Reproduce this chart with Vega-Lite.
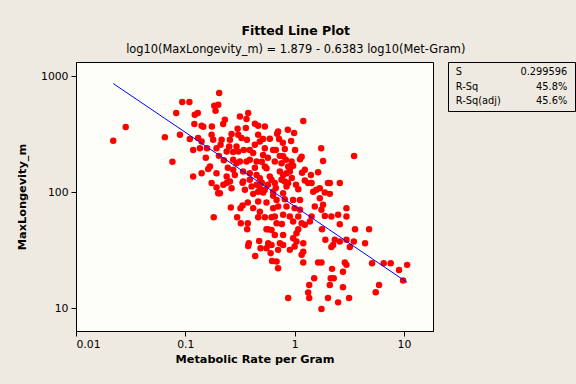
{
  "$schema": "https://vega.github.io/schema/vega-lite/v6.json",
  "background": "#EEEAE1",
  "padding": {"left": 16, "top": 25, "right": 3, "bottom": 20},
  "title": {
    "text": "Fitted Line Plot",
    "subtitle": "log10(MaxLongevity_m) =  1.879 - 0.6383 log10(Met-Gram)",
    "font": "DejaVu Sans", "fontSize": 12.5, "fontWeight": "bold", "color": "#000000",
    "subtitleFont": "DejaVu Sans", "subtitleFontSize": 11.4, "subtitleColor": "#000000",
    "subtitlePadding": 6.5, "offset": 6, "anchor": "middle"
  },
  "datasets": {
    "pts": [
      {"MetGram": 0.0219, "MaxLongevity": 278}, {"MetGram": 0.0285, "MaxLongevity": 365}, {"MetGram": 0.065, "MaxLongevity": 299},
      {"MetGram": 0.0762, "MaxLongevity": 183}, {"MetGram": 0.0826, "MaxLongevity": 483}, {"MetGram": 0.0893, "MaxLongevity": 313},
      {"MetGram": 0.0937, "MaxLongevity": 601}, {"MetGram": 0.109, "MaxLongevity": 601}, {"MetGram": 0.110, "MaxLongevity": 288},
      {"MetGram": 0.118, "MaxLongevity": 232}, {"MetGram": 0.118, "MaxLongevity": 137}, {"MetGram": 0.121, "MaxLongevity": 388},
      {"MetGram": 0.122, "MaxLongevity": 467}, {"MetGram": 0.130, "MaxLongevity": 483}, {"MetGram": 0.131, "MaxLongevity": 294},
      {"MetGram": 0.136, "MaxLongevity": 240}, {"MetGram": 0.141, "MaxLongevity": 274}, {"MetGram": 0.141, "MaxLongevity": 375},
      {"MetGram": 0.146, "MaxLongevity": 367}, {"MetGram": 0.141, "MaxLongevity": 146}, {"MetGram": 0.158, "MaxLongevity": 240},
      {"MetGram": 0.162, "MaxLongevity": 159}, {"MetGram": 0.168, "MaxLongevity": 167}, {"MetGram": 0.174, "MaxLongevity": 313},
      {"MetGram": 0.175, "MaxLongevity": 370}, {"MetGram": 0.180, "MaxLongevity": 284}, {"MetGram": 0.184, "MaxLongevity": 558},
      {"MetGram": 0.200, "MaxLongevity": 569}, {"MetGram": 0.189, "MaxLongevity": 506}, {"MetGram": 0.204, "MaxLongevity": 719},
      {"MetGram": 0.193, "MaxLongevity": 240}, {"MetGram": 0.193, "MaxLongevity": 146}, {"MetGram": 0.174, "MaxLongevity": 120},
      {"MetGram": 0.193, "MaxLongevity": 110}, {"MetGram": 0.200, "MaxLongevity": 98.2}, {"MetGram": 0.182, "MaxLongevity": 60.9},
      {"MetGram": 0.215, "MaxLongevity": 284}, {"MetGram": 0.210, "MaxLongevity": 257}, {"MetGram": 0.222, "MaxLongevity": 388},
      {"MetGram": 0.230, "MaxLongevity": 423}, {"MetGram": 0.225, "MaxLongevity": 189}, {"MetGram": 0.239, "MaxLongevity": 225},
      {"MetGram": 0.252, "MaxLongevity": 248}, {"MetGram": 0.239, "MaxLongevity": 137}, {"MetGram": 0.223, "MaxLongevity": 116},
      {"MetGram": 0.240, "MaxLongevity": 121}, {"MetGram": 0.265, "MaxLongevity": 108}, {"MetGram": 0.256, "MaxLongevity": 124},
      {"MetGram": 0.265, "MaxLongevity": 318}, {"MetGram": 0.256, "MaxLongevity": 284}, {"MetGram": 0.274, "MaxLongevity": 191},
      {"MetGram": 0.294, "MaxLongevity": 178}, {"MetGram": 0.316, "MaxLongevity": 184}, {"MetGram": 0.274, "MaxLongevity": 156},
      {"MetGram": 0.284, "MaxLongevity": 141}, {"MetGram": 0.294, "MaxLongevity": 248}, {"MetGram": 0.305, "MaxLongevity": 225},
      {"MetGram": 0.301, "MaxLongevity": 353}, {"MetGram": 0.305, "MaxLongevity": 313}, {"MetGram": 0.327, "MaxLongevity": 294},
      {"MetGram": 0.316, "MaxLongevity": 451}, {"MetGram": 0.376, "MaxLongevity": 483}, {"MetGram": 0.363, "MaxLongevity": 428},
      {"MetGram": 0.358, "MaxLongevity": 358}, {"MetGram": 0.338, "MaxLongevity": 151}, {"MetGram": 0.389, "MaxLongevity": 146},
      {"MetGram": 0.338, "MaxLongevity": 124}, {"MetGram": 0.389, "MaxLongevity": 128}, {"MetGram": 0.363, "MaxLongevity": 184},
      {"MetGram": 0.389, "MaxLongevity": 191}, {"MetGram": 0.449, "MaxLongevity": 184}, {"MetGram": 0.389, "MaxLongevity": 232},
      {"MetGram": 0.418, "MaxLongevity": 218}, {"MetGram": 0.433, "MaxLongevity": 390}, {"MetGram": 0.464, "MaxLongevity": 375},
      {"MetGram": 0.534, "MaxLongevity": 370}, {"MetGram": 0.464, "MaxLongevity": 313}, {"MetGram": 0.481, "MaxLongevity": 274},
      {"MetGram": 0.515, "MaxLongevity": 288}, {"MetGram": 0.534, "MaxLongevity": 240}, {"MetGram": 0.515, "MaxLongevity": 210},
      {"MetGram": 0.636, "MaxLongevity": 232}, {"MetGram": 0.534, "MaxLongevity": 167}, {"MetGram": 0.553, "MaxLongevity": 161},
      {"MetGram": 0.449, "MaxLongevity": 141}, {"MetGram": 0.481, "MaxLongevity": 132}, {"MetGram": 0.593, "MaxLongevity": 137},
      {"MetGram": 0.615, "MaxLongevity": 128}, {"MetGram": 0.404, "MaxLongevity": 112}, {"MetGram": 0.449, "MaxLongevity": 116},
      {"MetGram": 0.481, "MaxLongevity": 108}, {"MetGram": 0.534, "MaxLongevity": 105}, {"MetGram": 0.207, "MaxLongevity": 98.2},
      {"MetGram": 0.261, "MaxLongevity": 73.8}, {"MetGram": 0.320, "MaxLongevity": 72.9}, {"MetGram": 0.334, "MaxLongevity": 77.0},
      {"MetGram": 0.298, "MaxLongevity": 60.9}, {"MetGram": 0.322, "MaxLongevity": 54.1}, {"MetGram": 0.368, "MaxLongevity": 48.0},
      {"MetGram": 0.373, "MaxLongevity": 81.5}, {"MetGram": 0.418, "MaxLongevity": 96.8}, {"MetGram": 0.464, "MaxLongevity": 101},
      {"MetGram": 0.515, "MaxLongevity": 99.4}, {"MetGram": 0.464, "MaxLongevity": 83.2}, {"MetGram": 0.553, "MaxLongevity": 81.5},
      {"MetGram": 0.418, "MaxLongevity": 72.9}, {"MetGram": 0.636, "MaxLongevity": 72.9}, {"MetGram": 0.636, "MaxLongevity": 93.1},
      {"MetGram": 0.464, "MaxLongevity": 60.9}, {"MetGram": 0.534, "MaxLongevity": 60.9}, {"MetGram": 0.615, "MaxLongevity": 60.9},
      {"MetGram": 0.553, "MaxLongevity": 48.0}, {"MetGram": 0.569, "MaxLongevity": 48.0}, {"MetGram": 0.381, "MaxLongevity": 36.3},
      {"MetGram": 0.376, "MaxLongevity": 34.4}, {"MetGram": 0.474, "MaxLongevity": 38.0}, {"MetGram": 0.573, "MaxLongevity": 36.3},
      {"MetGram": 0.615, "MaxLongevity": 35.1}, {"MetGram": 0.488, "MaxLongevity": 32.9}, {"MetGram": 0.553, "MaxLongevity": 32.9},
      {"MetGram": 0.436, "MaxLongevity": 28.2}, {"MetGram": 0.603, "MaxLongevity": 29.8}, {"MetGram": 0.622, "MaxLongevity": 25.5},
      {"MetGram": 0.334, "MaxLongevity": 121},
      {"MetGram": 1.20, "MaxLongevity": 412}, {"MetGram": 0.706, "MaxLongevity": 335}, {"MetGram": 0.692, "MaxLongevity": 320},
      {"MetGram": 0.989, "MaxLongevity": 324}, {"MetGram": 0.721, "MaxLongevity": 288}, {"MetGram": 0.929, "MaxLongevity": 277},
      {"MetGram": 0.673, "MaxLongevity": 231}, {"MetGram": 0.813, "MaxLongevity": 236}, {"MetGram": 1.01, "MaxLongevity": 231},
      {"MetGram": 1.75, "MaxLongevity": 240}, {"MetGram": 3.50, "MaxLongevity": 205}, {"MetGram": 1.82, "MaxLongevity": 186},
      {"MetGram": 0.733, "MaxLongevity": 206}, {"MetGram": 0.785, "MaxLongevity": 204}, {"MetGram": 0.659, "MaxLongevity": 184},
      {"MetGram": 0.759, "MaxLongevity": 178}, {"MetGram": 0.937, "MaxLongevity": 184}, {"MetGram": 1.12, "MaxLongevity": 193},
      {"MetGram": 1.16, "MaxLongevity": 202}, {"MetGram": 0.873, "MaxLongevity": 167}, {"MetGram": 0.904, "MaxLongevity": 158},
      {"MetGram": 0.969, "MaxLongevity": 169}, {"MetGram": 0.733, "MaxLongevity": 151}, {"MetGram": 0.785, "MaxLongevity": 141},
      {"MetGram": 0.843, "MaxLongevity": 146}, {"MetGram": 0.904, "MaxLongevity": 151}, {"MetGram": 1.17, "MaxLongevity": 147},
      {"MetGram": 1.64, "MaxLongevity": 149}, {"MetGram": 0.759, "MaxLongevity": 128}, {"MetGram": 0.813, "MaxLongevity": 124},
      {"MetGram": 0.873, "MaxLongevity": 120}, {"MetGram": 0.659, "MaxLongevity": 120}, {"MetGram": 1.24, "MaxLongevity": 126},
      {"MetGram": 1.33, "MaxLongevity": 120}, {"MetGram": 1.43, "MaxLongevity": 120}, {"MetGram": 2.02, "MaxLongevity": 120},
      {"MetGram": 2.10, "MaxLongevity": 120}, {"MetGram": 2.59, "MaxLongevity": 120}, {"MetGram": 0.843, "MaxLongevity": 112},
      {"MetGram": 1.08, "MaxLongevity": 106}, {"MetGram": 1.58, "MaxLongevity": 105}, {"MetGram": 1.48, "MaxLongevity": 101},
      {"MetGram": 1.70, "MaxLongevity": 108}, {"MetGram": 1.89, "MaxLongevity": 99.4}, {"MetGram": 2.10, "MaxLongevity": 96.8},
      {"MetGram": 0.785, "MaxLongevity": 98.2}, {"MetGram": 0.636, "MaxLongevity": 101}, {"MetGram": 0.684, "MaxLongevity": 85.9},
      {"MetGram": 0.813, "MaxLongevity": 87.1}, {"MetGram": 0.969, "MaxLongevity": 85.9}, {"MetGram": 1.12, "MaxLongevity": 85.9},
      {"MetGram": 0.706, "MaxLongevity": 75.2}, {"MetGram": 0.843, "MaxLongevity": 75.2}, {"MetGram": 1.00, "MaxLongevity": 72.9},
      {"MetGram": 1.12, "MaxLongevity": 70.5}, {"MetGram": 1.70, "MaxLongevity": 88.9}, {"MetGram": 1.53, "MaxLongevity": 75.2},
      {"MetGram": 1.82, "MaxLongevity": 77.8}, {"MetGram": 1.76, "MaxLongevity": 70.5}, {"MetGram": 2.98, "MaxLongevity": 72.9},
      {"MetGram": 0.659, "MaxLongevity": 61.7}, {"MetGram": 0.785, "MaxLongevity": 63.8}, {"MetGram": 0.684, "MaxLongevity": 54.1},
      {"MetGram": 0.904, "MaxLongevity": 61.7}, {"MetGram": 0.969, "MaxLongevity": 55.8}, {"MetGram": 1.08, "MaxLongevity": 61.7},
      {"MetGram": 1.16, "MaxLongevity": 54.1}, {"MetGram": 1.43, "MaxLongevity": 61.7}, {"MetGram": 1.38, "MaxLongevity": 55.8},
      {"MetGram": 1.89, "MaxLongevity": 62.5}, {"MetGram": 2.17, "MaxLongevity": 61.7}, {"MetGram": 2.50, "MaxLongevity": 63.8},
      {"MetGram": 2.98, "MaxLongevity": 61.7}, {"MetGram": 2.59, "MaxLongevity": 53.0}, {"MetGram": 1.24, "MaxLongevity": 52.3},
      {"MetGram": 0.615, "MaxLongevity": 47.3}, {"MetGram": 0.785, "MaxLongevity": 42.8}, {"MetGram": 0.659, "MaxLongevity": 42.8},
      {"MetGram": 1.08, "MaxLongevity": 48.0}, {"MetGram": 1.04, "MaxLongevity": 44.3}, {"MetGram": 1.78, "MaxLongevity": 48.0},
      {"MetGram": 3.57, "MaxLongevity": 48.0}, {"MetGram": 4.80, "MaxLongevity": 48.0}, {"MetGram": 0.969, "MaxLongevity": 40.1},
      {"MetGram": 1.04, "MaxLongevity": 37.5}, {"MetGram": 1.91, "MaxLongevity": 38.8}, {"MetGram": 2.33, "MaxLongevity": 38.8},
      {"MetGram": 2.59, "MaxLongevity": 37.5}, {"MetGram": 2.98, "MaxLongevity": 38.8}, {"MetGram": 3.48, "MaxLongevity": 37.5},
      {"MetGram": 4.41, "MaxLongevity": 36.3}, {"MetGram": 0.733, "MaxLongevity": 36.3}, {"MetGram": 0.785, "MaxLongevity": 35.1},
      {"MetGram": 0.706, "MaxLongevity": 31.8}, {"MetGram": 0.904, "MaxLongevity": 31.8}, {"MetGram": 1.00, "MaxLongevity": 34.0},
      {"MetGram": 1.20, "MaxLongevity": 36.3}, {"MetGram": 2.25, "MaxLongevity": 35.1}, {"MetGram": 2.17, "MaxLongevity": 33.7},
      {"MetGram": 3.20, "MaxLongevity": 33.6}, {"MetGram": 1.20, "MaxLongevity": 30.7}, {"MetGram": 1.16, "MaxLongevity": 28.8},
      {"MetGram": 0.684, "MaxLongevity": 25.2}, {"MetGram": 0.706, "MaxLongevity": 22.1}, {"MetGram": 1.20, "MaxLongevity": 24.7},
      {"MetGram": 1.64, "MaxLongevity": 24.7}, {"MetGram": 1.76, "MaxLongevity": 24.7}, {"MetGram": 2.88, "MaxLongevity": 24.7},
      {"MetGram": 2.98, "MaxLongevity": 23.6}, {"MetGram": 2.77, "MaxLongevity": 20.6}, {"MetGram": 5.11, "MaxLongevity": 24.4},
      {"MetGram": 6.53, "MaxLongevity": 24.4}, {"MetGram": 7.57, "MaxLongevity": 24.4}, {"MetGram": 10.7, "MaxLongevity": 23.6},
      {"MetGram": 2.20, "MaxLongevity": 21.8}, {"MetGram": 9.02, "MaxLongevity": 21.3}, {"MetGram": 1.51, "MaxLongevity": 18.1},
      {"MetGram": 2.14, "MaxLongevity": 18.1}, {"MetGram": 2.28, "MaxLongevity": 18.1}, {"MetGram": 2.10, "MaxLongevity": 15.8},
      {"MetGram": 9.82, "MaxLongevity": 17.3}, {"MetGram": 1.36, "MaxLongevity": 15.8}, {"MetGram": 2.77, "MaxLongevity": 15.1},
      {"MetGram": 5.92, "MaxLongevity": 15.8}, {"MetGram": 5.52, "MaxLongevity": 13.7}, {"MetGram": 1.33, "MaxLongevity": 13.6},
      {"MetGram": 1.36, "MaxLongevity": 12.2}, {"MetGram": 0.873, "MaxLongevity": 12.2}, {"MetGram": 2.02, "MaxLongevity": 12.2},
      {"MetGram": 3.15, "MaxLongevity": 12.2}, {"MetGram": 2.50, "MaxLongevity": 11.2}, {"MetGram": 1.76, "MaxLongevity": 9.82},
      {"MetGram": 0.351, "MaxLongevity": 105}, {"MetGram": 0.501, "MaxLongevity": 121}, {"MetGram": 0.569, "MaxLongevity": 116},
      {"MetGram": 0.673, "MaxLongevity": 109}, {"MetGram": 0.942, "MaxLongevity": 133}, {"MetGram": 1.03, "MaxLongevity": 116},
      {"MetGram": 0.433, "MaxLongevity": 163}, {"MetGram": 0.501, "MaxLongevity": 183}, {"MetGram": 0.366, "MaxLongevity": 284},
      {"MetGram": 0.433, "MaxLongevity": 257}, {"MetGram": 0.569, "MaxLongevity": 198}, {"MetGram": 0.832, "MaxLongevity": 191},
      {"MetGram": 0.245, "MaxLongevity": 163}, {"MetGram": 0.203, "MaxLongevity": 206}, {"MetGram": 0.154, "MaxLongevity": 198},
      {"MetGram": 0.274, "MaxLongevity": 223}, {"MetGram": 0.343, "MaxLongevity": 232}, {"MetGram": 0.593, "MaxLongevity": 290},
      {"MetGram": 0.78, "MaxLongevity": 267}, {"MetGram": 0.867, "MaxLongevity": 346}, {"MetGram": 1.24, "MaxLongevity": 156},
      {"MetGram": 1.41, "MaxLongevity": 141}, {"MetGram": 0.481, "MaxLongevity": 67.7}, {"MetGram": 0.764, "MaxLongevity": 53.3},
      {"MetGram": 0.373, "MaxLongevity": 54.1}
    ],
    "fit": [
      {"MetGram": 0.0219, "MaxLongevity": 867.7},
      {"MetGram": 10.7, "MaxLongevity": 16.67}
    ],
    "stats": [
      {"row": "1", "col": "l", "t": "S"}, {"row": "1", "col": "r", "t": "0.299596"},
      {"row": "2", "col": "l", "t": "R-Sq"}, {"row": "2", "col": "r", "t": "45.8%"},
      {"row": "3", "col": "l", "t": "R-Sq(adj)"}, {"row": "3", "col": "r", "t": "45.6%"}
    ]
  },
  "hconcat": [
    {
      "width": 357, "height": 269,
      "view": {"fill": "#FEFEF9", "stroke": "#000000", "strokeWidth": 1},
      "layer": [
        {
          "data": {"name": "pts"},
          "mark": {"type": "circle", "size": 42, "color": "#FF0000", "opacity": 1},
          "encoding": {
            "x": {"field": "MetGram", "type": "quantitative",
                  "scale": {"type": "log", "domain": [0.01, 18.45], "nice": false},
                  "axis": {"title": "Metabolic Rate per Gram", "values": [0.01, 0.1, 1, 10], "format": "~g", "tickSize": 5, "labelPadding": 2, "titlePadding": 5}},
            "y": {"field": "MaxLongevity", "type": "quantitative",
                  "scale": {"type": "log", "domain": [6.34, 1331], "nice": false},
                  "axis": {"title": "MaxLongevity_m", "values": [10, 100, 1000], "format": "~g", "tickSize": 5, "labelPadding": 3, "titlePadding": 13}}
          }
        },
        {
          "data": {"name": "fit"},
          "mark": {"type": "line", "color": "#0000FF", "strokeWidth": 1},
          "encoding": {
            "x": {"field": "MetGram", "type": "quantitative"},
            "y": {"field": "MaxLongevity", "type": "quantitative"}
          }
        }
      ]
    },
    {
      "width": 127, "height": 49,
      "view": {"stroke": "#000000", "strokeWidth": 1},
      "data": {"name": "stats"},
      "encoding": {
        "x": {"field": "col", "type": "nominal", "scale": {"type": "point", "domain": ["l", "r"], "padding": 0.07}, "axis": null},
        "y": {"field": "row", "type": "ordinal", "scale": {"type": "point", "padding": 0.72}, "axis": null},
        "text": {"field": "t", "type": "nominal"}
      },
      "layer": [
        {"transform": [{"filter": "datum.col == 'l'"}], "mark": {"type": "text", "align": "left", "baseline": "middle", "font": "DejaVu Sans", "fontSize": 9.8, "color": "#000000"}},
        {"transform": [{"filter": "datum.col == 'r'"}], "mark": {"type": "text", "align": "right", "baseline": "middle", "font": "DejaVu Sans", "fontSize": 9.8, "color": "#000000"}}
      ]
    }
  ],
  "spacing": 13,
  "config": {
    "axis": {"grid": false, "domainColor": "#000000", "tickColor": "#000000", "labelColor": "#000000", "titleColor": "#000000",
             "labelFont": "DejaVu Sans", "labelFontSize": 10.8, "titleFont": "DejaVu Sans", "titleFontSize": 11.3, "titleFontWeight": "bold"}
  }
}
